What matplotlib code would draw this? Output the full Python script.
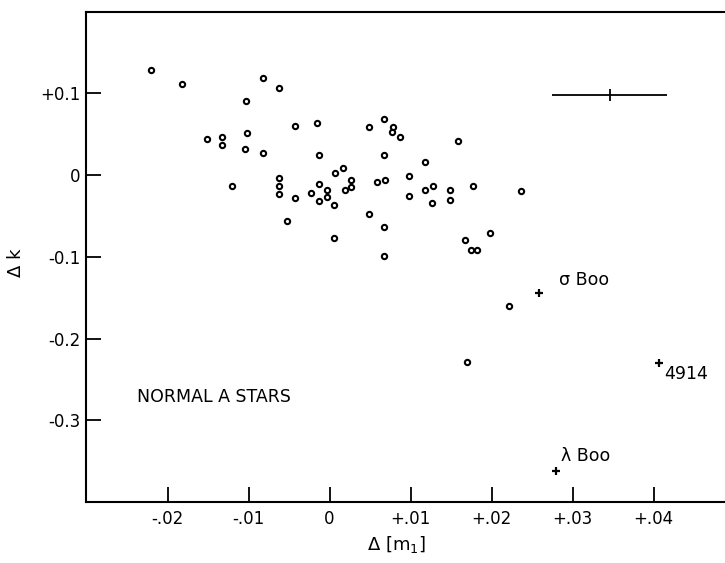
import numpy as np
import matplotlib
matplotlib.use('Agg')
import matplotlib.pyplot as plt

# Normal A stars (open circles)
dm1 = [-0.0221, -0.0182, -0.0082, -0.0063, -0.0103, -0.0151, -0.0133, -0.0133,
       -0.0102, -0.0043, -0.0015, 0.0049, -0.0104, -0.0082, -0.0013, -0.0121,
       -0.0062, -0.0062, -0.0062, -0.0043, -0.0023, -0.0013, -0.0013, -0.0003,
       -0.0003, 0.0005, 0.0007, 0.0016, 0.0019, 0.0027, 0.0027, 0.0058,
       0.0049, -0.0052, 0.0006, 0.0067, 0.0078, 0.0077, 0.0087, 0.0159,
       0.0067, 0.0118, 0.0068, 0.0098, 0.0098, 0.0118, 0.0128, 0.0127,
       0.0148, 0.0148, 0.0177, 0.0236, 0.0067, 0.0067, 0.0167, 0.0175,
       0.0182, 0.0198, 0.0221, 0.0169]
dk = [0.128, 0.111, 0.119, 0.106, 0.091, 0.044, 0.046, 0.037,
      0.051, 0.060, 0.063, 0.059, 0.032, 0.027, 0.025, -0.013,
      -0.004, -0.013, -0.023, -0.028, -0.022, -0.011, -0.032, -0.018,
      -0.027, -0.037, 0.002, 0.009, -0.018, -0.006, -0.015, -0.009,
      -0.048, -0.056, -0.077, 0.069, 0.059, 0.052, 0.047, 0.042,
      0.025, 0.016, -0.006, -0.001, -0.026, -0.018, -0.013, -0.034,
      -0.018, -0.031, -0.013, -0.019, -0.064, -0.099, -0.080, -0.092,
      -0.092, -0.071, -0.160, -0.229]

# peculiar stars (crosses)
pec_names = ['\u03c3 Boo', '4914', '\u03bb Boo']
pec_dm1 = [0.0258, 0.0407, 0.0279]
pec_dk = [-0.144, -0.230, -0.362]
label_x = [0.0283, 0.0413, 0.0286]
label_y = [-0.128, -0.243, -0.344]

# typical error bar
err_x, err_y = [0.0346], [0.098]
err_dx, err_dy = [0.0071], [0.0075]

xticks = [-0.02, -0.01, 0, 0.01, 0.02, 0.03, 0.04]
xticklabels = ['-.02', '-.01', '0', '+.01', '+.02', '+.03', '+.04']
yticks = [0.1, 0, -0.1, -0.2, -0.3]
yticklabels = ['+0.1', '0', '-0.1', '-0.2', '-0.3']

plt.rcParams['font.family'] = ['DejaVu Sans']

fig = plt.figure(figsize=(7.25, 5.63), dpi=100)
ax = fig.add_axes([0.1182, 0.1089, 0.8818, 0.8703])

ax.plot(dm1, dk, linestyle='none', marker='o', ms=3.8, mfc='white',
        mec='black', mew=1.5)
ax.plot(pec_dm1, pec_dk, linestyle='none', marker='+', ms=6, mew=1.6,
        color='black')
for name, tx, ty in zip(pec_names, label_x, label_y):
    ax.text(tx, ty, name, ha='left', va='center', fontsize=12.5)

ax.errorbar(err_x, err_y, xerr=err_dx, yerr=err_dy, fmt='none',
            ecolor='black', elinewidth=1.3, capsize=0)

ax.text(-0.0238, -0.272, 'NORMAL A STARS', ha='left', va='center',
        fontsize=12.5)

ax.set_xlim(-0.0301, 0.0488)
ax.set_ylim(-0.3994, 0.1996)
ax.set_xticks(xticks)
ax.set_xticklabels(xticklabels, fontsize=12)
ax.set_yticks(yticks)
ax.set_yticklabels(yticklabels, fontsize=12)
ax.tick_params(direction='in', length=11, width=1.3, pad=4)
ax.tick_params(axis='x', pad=6)

ax.spines['right'].set_visible(False)
for s in ['left', 'top', 'bottom']:
    ax.spines[s].set_linewidth(1.5)

fig.text(0.547, 0.032, '\u0394 [m$_1$]', ha='center', va='center',
         fontsize=13)
fig.text(0.022, 0.533, '\u0394 k', ha='center', va='center', rotation=90,
         fontsize=13)

fig.savefig('out.png', dpi=100)
